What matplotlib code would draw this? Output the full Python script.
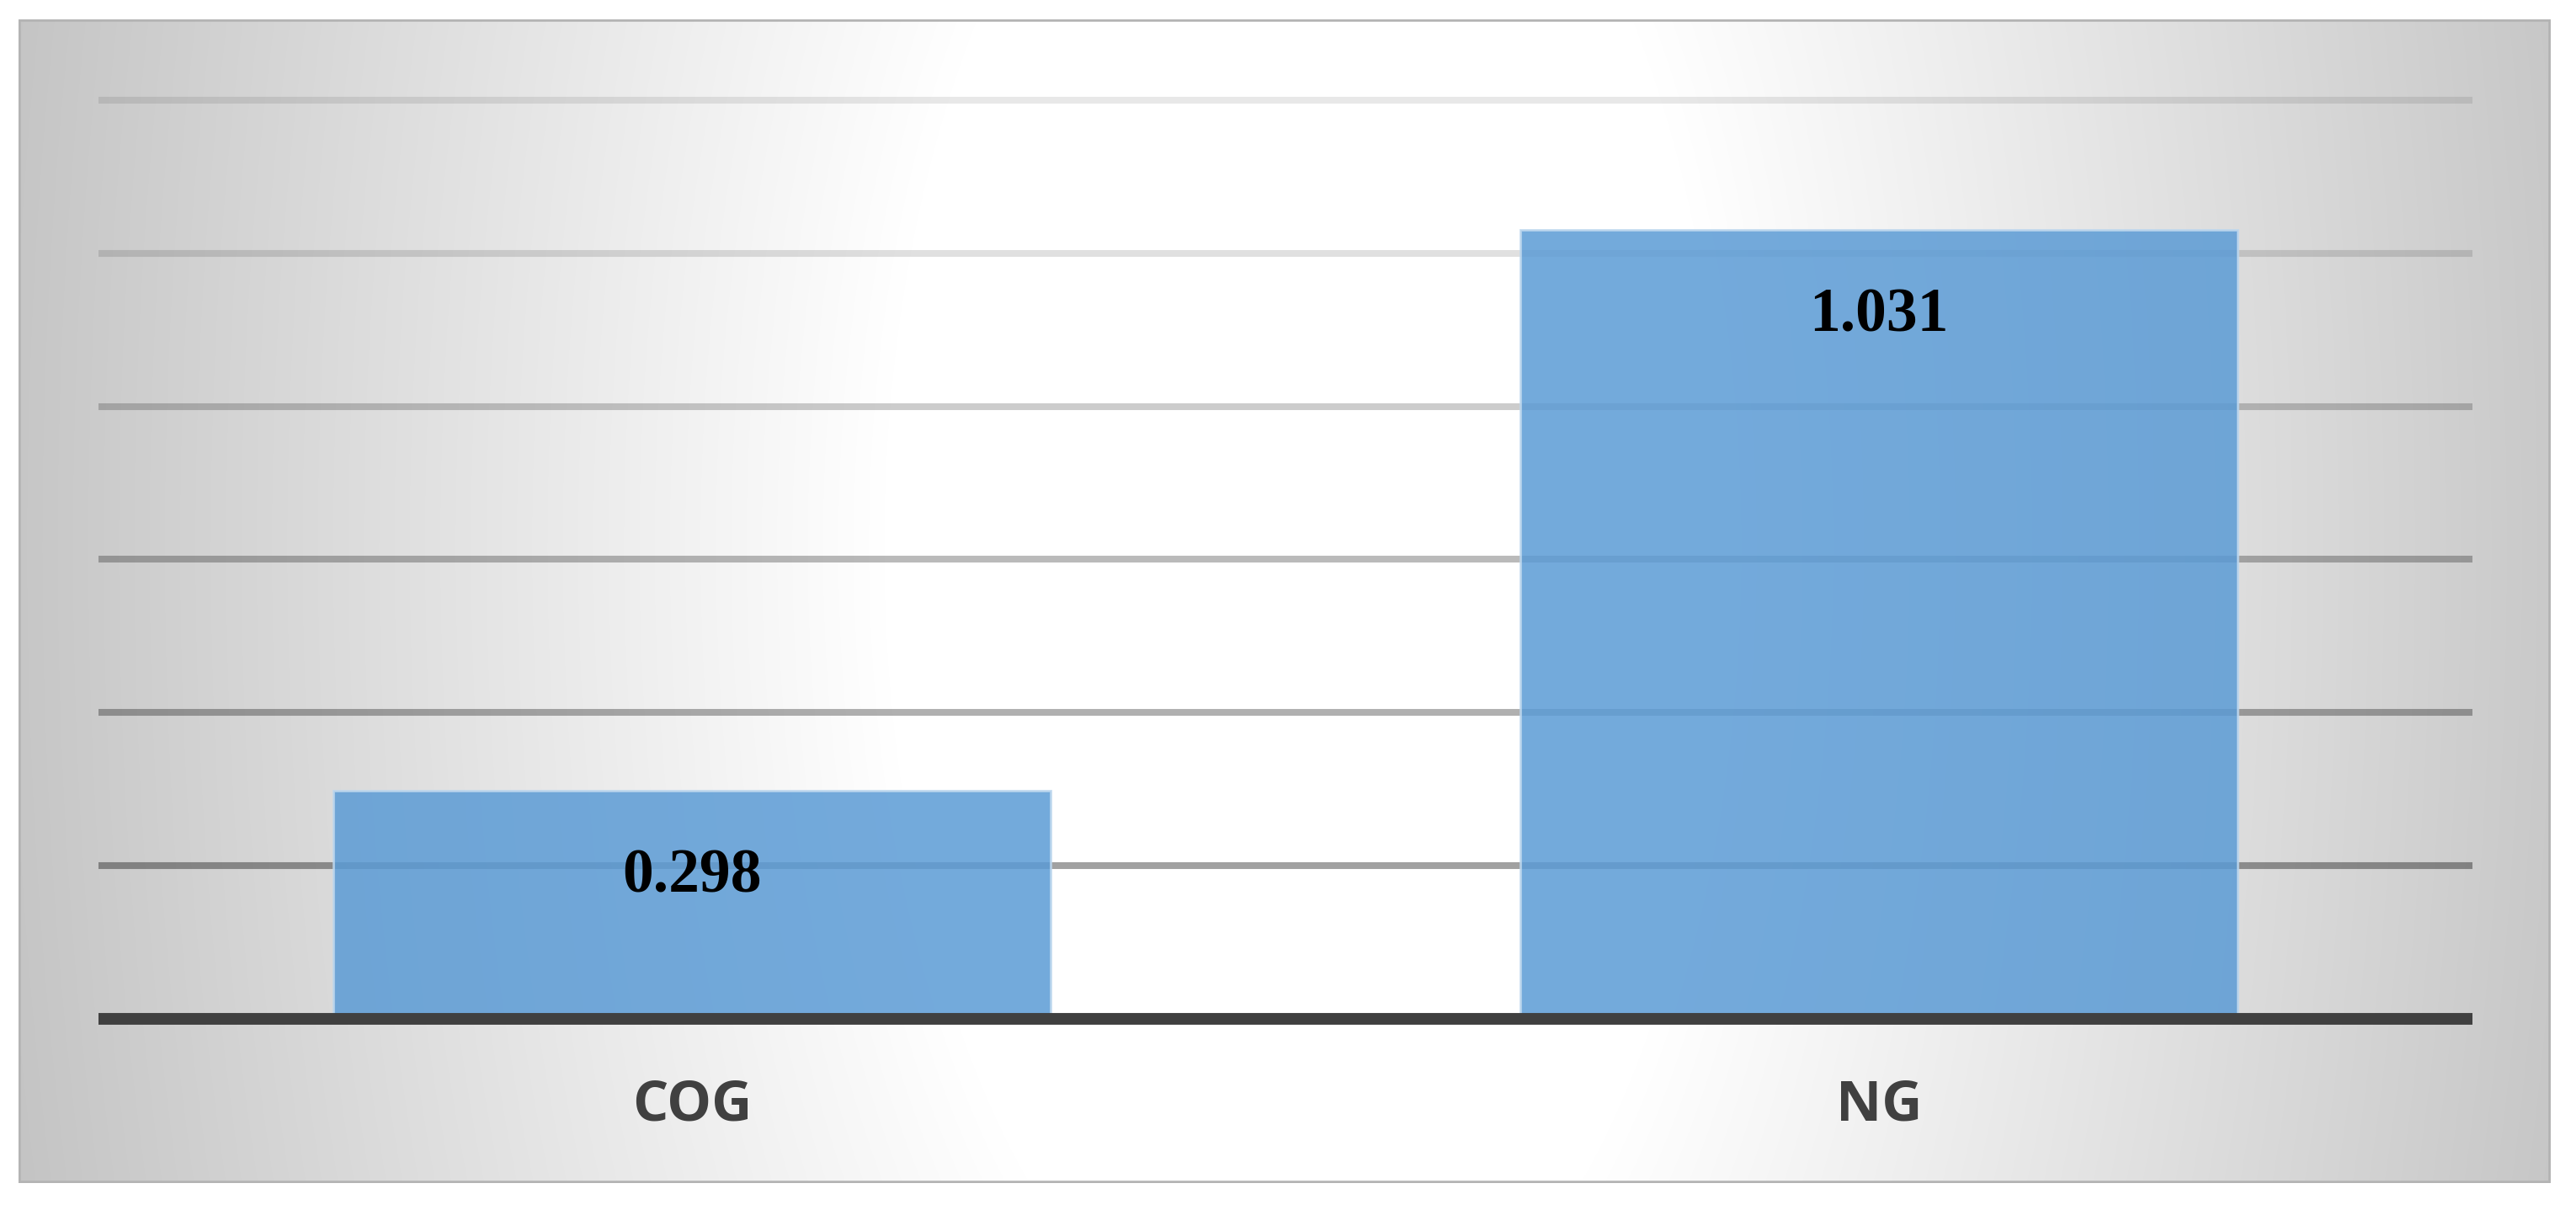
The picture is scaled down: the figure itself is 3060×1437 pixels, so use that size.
import numpy as np
import matplotlib
matplotlib.use("Agg")
import matplotlib.pyplot as plt
from matplotlib.patches import Rectangle

categories = ["COG", "NG"]
values = [0.298, 1.031]
value_labels = ["0.298", "1.031"]
y_ticks = [0.2, 0.4, 0.6, 0.8, 1.0, 1.2]

W, H = 3060, 1437
DPI = 100
fig = plt.figure(figsize=(W / DPI, H / DPI), dpi=DPI)
fig.patch.set_facecolor("white")

# ---- panel with radial gradient background ----
px0, py0, px1, py1 = 22, 23, 3030, 1405  # pixel coords (top-left origin)
bg = fig.add_axes([px0 / W, (H - py1) / H, (px1 - px0) / W, (py1 - py0) / H], zorder=0)
xs = np.arange(px0, px1)
ys = np.arange(py0, py1)
X, Y = np.meshgrid(xs, ys)
cx, cy = 1550, 650
r = np.sqrt((X - cx) ** 2 + (0.5 * (Y - cy)) ** 2)
b = 255 - 0.055 * np.clip(r - 500, 0, None)
b = np.clip(b, 188, 255) / 255.0
img = np.dstack([b, b, b])
bg.imshow(img, aspect="auto", extent=[0, 1, 0, 1], interpolation="bilinear")
bg.add_patch(Rectangle((0, 0), 1, 1, transform=bg.transAxes, fill=False,
                       edgecolor="#b4b4b4", lw=4))
bg.set_xlim(0, 1)
bg.set_ylim(0, 1)
bg.axis("off")

# ---- main axes ----
left_px, right_px = 117, 2937
base_px, top12_px = 1210, 119
ppu = (base_px - top12_px) / 1.2
ymax = 1.25
ax_h = ppu * ymax
ax = fig.add_axes([left_px / W, (H - base_px) / H, (right_px - left_px) / W, ax_h / H], zorder=1)
ax.patch.set_alpha(0)
ax.set_xlim(-0.5, len(categories) - 0.5)
ax.set_ylim(0, ymax)

grid_alphas = [0.37, 0.31, 0.27, 0.20, 0.12, 0.09]
for t, a in zip(y_ticks, grid_alphas):
    ax.axhline(t, color="black", alpha=a, lw=5.8, zorder=1, solid_capstyle="butt")

x = np.arange(len(categories))
bars = ax.bar(x, values, width=0.604, color="#5b9bd5", alpha=0.85,
              edgecolor="#bdd7ee", linewidth=2, zorder=2)

ax.axhline(0, color="#404040", lw=10, zorder=3, clip_on=False, solid_capstyle="butt")

for xi, v, lab in zip(x, values, value_labels):
    ax.annotate(lab, xy=(xi, v), xytext=(0, -74), textcoords="offset points",
                ha="center", va="center", fontsize=53, fontweight="bold",
                family="Liberation Serif", color="black", zorder=4)

ax.set_xticks(x)
ax.set_xticklabels(categories, fontsize=48, fontweight="bold", family="Open Sans",
                   color="#404040")
for tl in ax.get_xticklabels():
    tl.set_va("center")
ax.tick_params(axis="x", length=0, pad=74)
ax.set_yticks([])
for s in ax.spines.values():
    s.set_visible(False)

fig.savefig("out.png", dpi=DPI, facecolor="white")
